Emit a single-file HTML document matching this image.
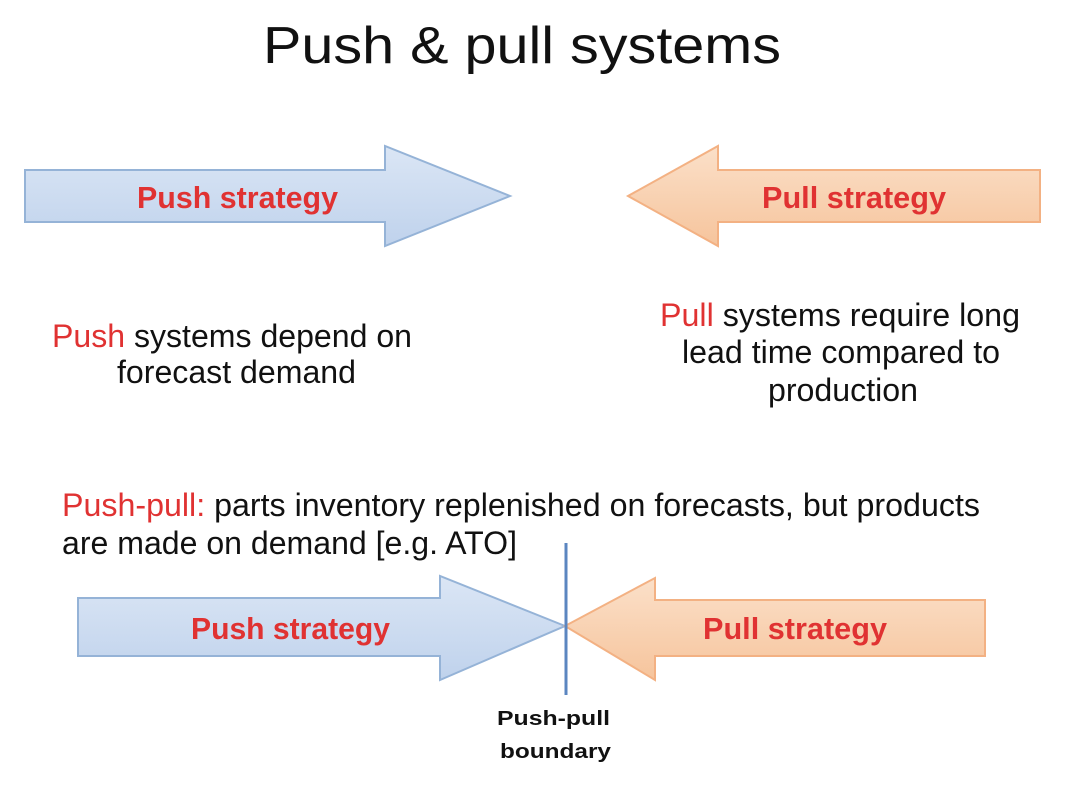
<!DOCTYPE html>
<html><head><meta charset="utf-8"><style>html,body{margin:0;padding:0;background:#fff}svg{display:block}</style></head>
<body>
<svg width="1086" height="800" viewBox="0 0 1086 800" xmlns="http://www.w3.org/2000/svg" font-family="Liberation Sans, sans-serif">
<defs>
<linearGradient id="b" x1="0" y1="0" x2="0" y2="1"><stop offset="0" stop-color="#dbe6f5"/><stop offset="1" stop-color="#bfd2ec"/></linearGradient>
<linearGradient id="o" x1="0" y1="0" x2="0" y2="1"><stop offset="0" stop-color="#fbe0c9"/><stop offset="1" stop-color="#f6c49c"/></linearGradient>
</defs>
<text x="263" y="63" font-size="52" fill="#111" textLength="518" lengthAdjust="spacingAndGlyphs">Push &amp; pull systems</text>

<polygon points="25,170 385,170 385,146 510,196 385,246 385,222 25,222" fill="url(#b)" stroke="#95b3d7" stroke-width="2"/>
<polygon points="1040,170 718,170 718,146 628,196 718,246 718,222 1040,222" fill="url(#o)" stroke="#f3b183" stroke-width="2"/>
<text x="137" y="208" font-size="31" font-weight="bold" fill="#e03232" textLength="201" lengthAdjust="spacingAndGlyphs">Push strategy</text>
<text x="762" y="208" font-size="31" font-weight="bold" fill="#e03232" textLength="184" lengthAdjust="spacingAndGlyphs">Pull strategy</text>

<g font-size="32" fill="#111">
<text x="52" y="347" textLength="360" lengthAdjust="spacingAndGlyphs"><tspan fill="#e03232">Push</tspan> systems depend on</text>
<text x="117" y="383" textLength="239" lengthAdjust="spacingAndGlyphs">forecast demand</text>
<text x="660" y="326" textLength="360" lengthAdjust="spacingAndGlyphs"><tspan fill="#e03232">Pull</tspan> systems require long</text>
<text x="682" y="363" textLength="318" lengthAdjust="spacingAndGlyphs">lead time compared to</text>
<text x="768" y="401" textLength="150" lengthAdjust="spacingAndGlyphs">production</text>
<text x="62" y="516" textLength="918" lengthAdjust="spacingAndGlyphs"><tspan fill="#e03232">Push-pull:</tspan> parts inventory replenished on forecasts, but products</text>
<text x="62" y="554" textLength="455" lengthAdjust="spacingAndGlyphs">are made on demand [e.g. ATO]</text>
</g>

<polygon points="78,598 440,598 440,576 565,626 440,680 440,656 78,656" fill="url(#b)" stroke="#95b3d7" stroke-width="2"/>
<polygon points="985,600 655,600 655,578 565,626 655,680 655,656 985,656" fill="url(#o)" stroke="#f3b183" stroke-width="2"/>
<text x="191" y="639" font-size="31" font-weight="bold" fill="#e03232" textLength="199" lengthAdjust="spacingAndGlyphs">Push strategy</text>
<text x="703" y="639" font-size="31" font-weight="bold" fill="#e03232" textLength="184" lengthAdjust="spacingAndGlyphs">Pull strategy</text>
<line x1="566" y1="543" x2="566" y2="695" stroke="#5b86c0" stroke-width="3"/>
<text x="497" y="725" font-size="20" font-weight="bold" fill="#111" textLength="113" lengthAdjust="spacingAndGlyphs">Push-pull</text>
<text x="500" y="758" font-size="20" font-weight="bold" fill="#111" textLength="111" lengthAdjust="spacingAndGlyphs">boundary</text>
</svg>
</body></html>
